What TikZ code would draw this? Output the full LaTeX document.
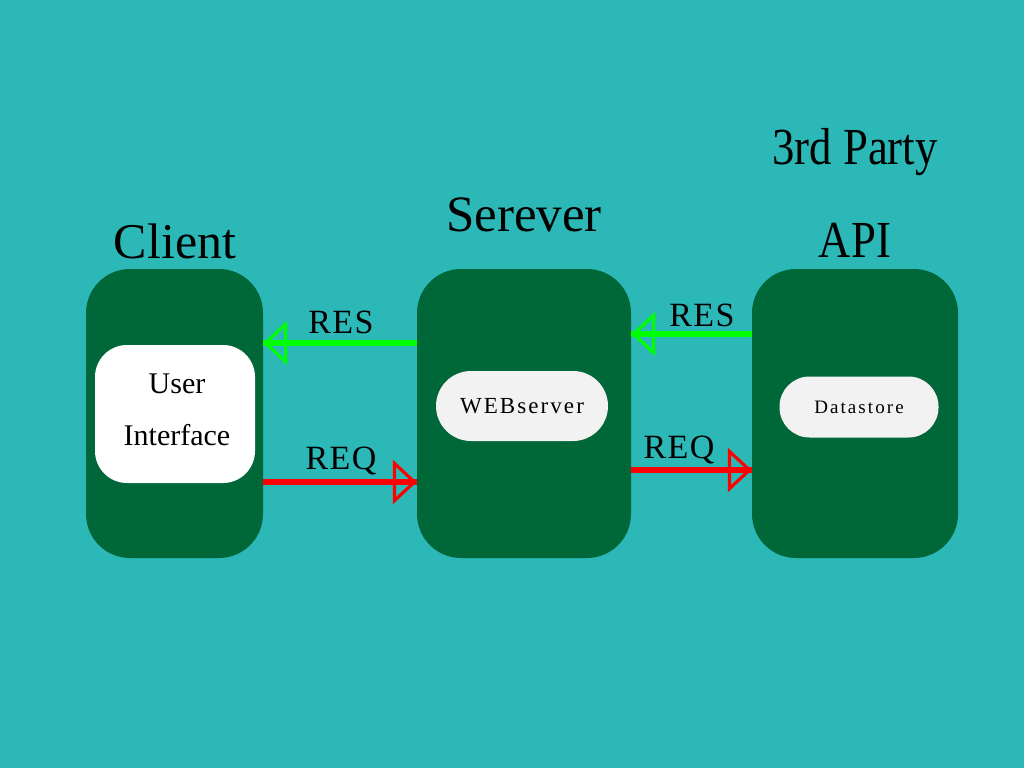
\documentclass[tikz,border=0pt]{standalone}
\usepackage{fontspec}
\setmainfont{Liberation Serif}
\usetikzlibrary{arrows.meta}
\definecolor{bgc}{RGB}{45,184,184}
\definecolor{boxc}{RGB}{0,104,56}
\definecolor{pill}{RGB}{242,242,242}
\definecolor{resc}{RGB}{0,255,0}
\definecolor{reqc}{RGB}{255,0,0}
\tikzset{
  tier/.style={fill=boxc, draw=none, rounded corners=44pt, inner sep=0pt},
  inner/.style={draw=none, inner sep=0pt, align=center, text=black},
  title/.style={inner sep=0pt, text=black, font=\fontsize{50}{56}\selectfont},
  lbl/.style={inner sep=0pt, text=black, font=\fontsize{34}{40}\selectfont\addfontfeature{LetterSpace=4}},
  conn/.style={line width=5.5pt, postaction={draw, -{Triangle[open, length=24pt, width=44pt, line width=3.2pt]}}},
  resarrow/.style={conn, resc},
  reqarrow/.style={conn, reqc},
}
\begin{document}
\begin{tikzpicture}[x=1pt, y=-1pt]
\fill[bgc] (0,0) rectangle (1024,768);
\useasboundingbox (0,0) rectangle (1024,768);
% tiers
\node[tier, minimum width=177pt, minimum height=289pt] (client) at (174.5,413.5) {};
\node[tier, minimum width=214pt, minimum height=289pt] (srv) at (524,413.5) {};
\node[tier, minimum width=206pt, minimum height=289pt] (api) at (855,413.5) {};
% inner
\node[inner, fill=white, rounded corners=32pt, minimum width=160pt, minimum height=138pt] (ui) at (175,414) {};
\node[inner, font=\fontsize{30}{52}\selectfont] (uit) at (177,410) {User\\Interface};
\node[inner, fill=pill, rounded corners=35pt, minimum width=172pt, minimum height=70pt,
      font=\fontsize{23}{26}\selectfont\addfontfeature{LetterSpace=9}] (web) at (522,406) {WEBserver};
\node[inner, fill=pill, rounded corners=30pt, minimum width=159pt, minimum height=61pt,
      font=\fontsize{19}{22}\selectfont\addfontfeature{LetterSpace=11}] (ds) at (859,407) {Datastore};
% titles
\node[title] (tclient) at (175,241) {Client};
\node[title, font=\fontsize{51}{56}\selectfont] (tsrv) at (524,215) {Serever};
\node[title, font=\fontsize{52}{56}\selectfont\addfontfeature{FakeStretch=0.86}] (tparty) at (855,152) {3rd Party};
\node[title, font=\fontsize{52}{56}\selectfont\addfontfeature{FakeStretch=0.86}] (tapi) at (855,240) {API};
% connectors
\draw[resarrow] (srv.west |- 0,343) -- (client.east |- 0,343);
\draw[reqarrow] (client.east |- 0,482) -- (srv.west |- 0,482);
\draw[resarrow] (api.west |- 0,334) -- (srv.east |- 0,334);
\draw[reqarrow] (srv.east |- 0,470) -- (api.west |- 0,470);
% connector labels
\node[lbl] (l1) at (341,322) {RES};
\node[lbl] (l2) at (341,461) {REQ};
\node[lbl] (l3) at (702,315) {RES};
\node[lbl] (l4) at (679,450) {REQ};
\end{tikzpicture}
\end{document}
